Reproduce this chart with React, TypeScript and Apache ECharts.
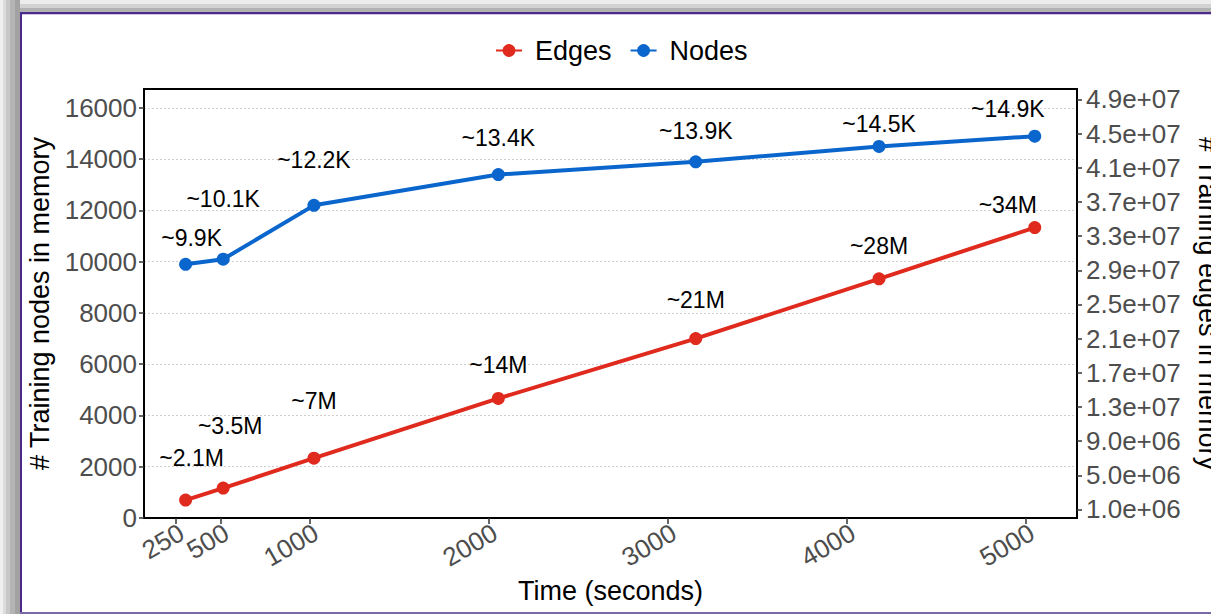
import React, { useEffect, useRef } from "react";
import * as echarts from "echarts";

// Elapsed time (s) at which memory was sampled
const timeSec = [305, 515, 1022, 2052, 3155, 4179, 5049];
// Training edges kept in memory (right axis)
const edgesInMemory = [2.1e6, 3.5e6, 7e6, 14e6, 21e6, 28e6, 34e6];
// Training nodes kept in memory (left axis)
const nodesInMemory = [9900, 10100, 12200, 13400, 13900, 14500, 14900];

// Tick values
const timeTicks = [250, 500, 1000, 2000, 3000, 4000, 5000];
// 500 sits close to 250, so it is labelled on a companion axis to keep both visible
const timeTicksCrowded = [500];
const nodeTicks = [0, 2000, 4000, 6000, 8000, 10000, 12000, 14000, 16000];
const edgeTicks = [1e6, 5e6, 9e6, 1.3e7, 1.7e7, 2.1e7, 2.5e7, 2.9e7, 3.3e7, 3.7e7, 4.1e7, 4.5e7, 4.9e7];

// Pixel shift of each value label from its point
const edgeLabelShift = [[6, -42], [7, -62], [0, -57], [0, -33], [0, -39], [0, -33], [-27, -23]];
const nodeLabelShift = [[6, -26], [0, -60], [0, -45], [0, -37], [0, -31], [0, -22], [-27, -27]];

const RED = "#DF2A1D";
const BLUE = "#0A66CC";
const FONT = "'Liberation Sans', Arial, Helvetica, sans-serif";

// Secondary axis is the primary axis scaled by this factor
const EDGE_FACTOR = 3000;
const NODE_MAX = 16740;
const TIME_MIN = 72.6;
const TIME_MAX = 5285;

function sci(v: number): string {
  const [m, e] = v.toExponential(1).split("e");
  const sign = e[0];
  const digits = e.slice(1).padStart(2, "0");
  return `${m}e${sign}${digits}`;
}

export default function App() {
  const ref = useRef<HTMLDivElement>(null);

  useEffect(() => {
    if (!ref.current) return;
    const chart = echarts.init(ref.current, null, { renderer: "svg" });

    const edgeData = timeSec.map((t, i) => ({
      value: [t, edgesInMemory[i]],
      label: { offset: edgeLabelShift[i] },
    }));
    const nodeData = timeSec.map((t, i) => ({
      value: [t, nodesInMemory[i]],
      label: { offset: nodeLabelShift[i] },
    }));

    const labelStyle = {
      show: true,
      position: "inside",
      color: "#000",
      fontSize: 23,
      fontFamily: FONT,
      textBorderWidth: 0,
    };

    const tickLabel = {
      color: "#4d4d4d",
      fontSize: 26,
      fontFamily: FONT,
      hideOverlap: false,
      showMinLabel: true,
      showMaxLabel: true,
    };

    const timeLabel = {
      ...tickLabel,
      rotate: 30,
      margin: 16,
      padding: [0, -7, 0, 0],
      interval: 0,
      formatter: (v: number) => String(v),
    };

    const titleStyle = { fontSize: 27, color: "#000", fontFamily: FONT };

    chart.setOption({
      animation: false,
      backgroundColor: "#fff",
      textStyle: { fontFamily: FONT },
      graphic: [
        // window shadow and frame
        { type: "rect", shape: { x: 0, y: 0, width: 1211, height: 4 }, style: { fill: "#ececec" }, silent: true },
        { type: "rect", shape: { x: 0, y: 4, width: 1211, height: 4 }, style: { fill: "#d2d2d2" }, silent: true },
        { type: "rect", shape: { x: 0, y: 8, width: 1211, height: 4 }, style: { fill: "#b2b2b2" }, silent: true },
        { type: "rect", shape: { x: 0, y: 0, width: 3, height: 614 }, style: { fill: "#f0f0f0" }, silent: true },
        { type: "rect", shape: { x: 3, y: 0, width: 3, height: 614 }, style: { fill: "#dcdcdc" }, silent: true },
        { type: "rect", shape: { x: 6, y: 0, width: 4, height: 614 }, style: { fill: "#c8c8c8" }, silent: true },
        { type: "rect", shape: { x: 10, y: 0, width: 5, height: 614 }, style: { fill: "#b4b4b4" }, silent: true },
        { type: "rect", shape: { x: 15, y: 0, width: 5, height: 614 }, style: { fill: "#a2a2a2" }, silent: true },
        { type: "rect", shape: { x: 20, y: 12, width: 1191, height: 2 }, style: { fill: "#4b2a8a" }, silent: true },
        { type: "rect", shape: { x: 20, y: 14, width: 1191, height: 1 }, style: { fill: "#cfc3e3" }, silent: true },
        { type: "rect", shape: { x: 20, y: 12, width: 2, height: 602 }, style: { fill: "#4b2a8a" }, silent: true },
        { type: "rect", shape: { x: 20, y: 612, width: 1191, height: 2 }, style: { fill: "#7a6aa8" }, silent: true },
      ],
      legend: {
        data: ["Edges", "Nodes"],
        left: 490,
        top: 32,
        itemWidth: 26,
        itemHeight: 16,
        itemGap: 18,
        textStyle: { fontSize: 27, color: "#000", fontFamily: FONT, padding: [0, 0, 0, 8] },
      },
      grid: {
        left: 144,
        right: 134,
        top: 89,
        bottom: 96,
        outerBoundsMode: "none",
        containLabel: false,
        show: true,
        borderColor: "#000",
        borderWidth: 2,
        backgroundColor: "transparent",
      },
      xAxis: [
        {
          type: "value",
          min: TIME_MIN,
          max: TIME_MAX,
          name: "Time (seconds)",
          nameLocation: "middle",
          nameGap: 59,
          nameTextStyle: titleStyle,
          axisLine: { show: true, onZero: false, lineStyle: { color: "#000", width: 2 } },
          axisTick: { show: true, length: 6, customValues: timeTicks, lineStyle: { color: "#333", width: 1.5 } },
          axisLabel: { ...timeLabel, customValues: timeTicks.filter((t) => !timeTicksCrowded.includes(t)) },
          splitLine: { show: false },
        },
        {
          type: "value",
          position: "bottom",
          min: TIME_MIN,
          max: TIME_MAX,
          axisLine: { show: false, onZero: false },
          axisTick: { show: false },
          axisLabel: { ...timeLabel, customValues: timeTicksCrowded },
          splitLine: { show: false },
        },
      ],
      yAxis: [
        {
          type: "value",
          position: "left",
          min: 0,
          max: NODE_MAX,
          interval: 2000,
          name: "# Training nodes in memory",
          nameLocation: "middle",
          nameRotate: 90,
          nameGap: 88,
          nameTextStyle: titleStyle,
          axisLine: { show: true, lineStyle: { color: "#000", width: 2 } },
          axisTick: { show: true, length: 5, customValues: nodeTicks, lineStyle: { color: "#333", width: 1.5 } },
          axisLabel: { ...tickLabel, margin: 7, customValues: nodeTicks, formatter: (v: number) => String(v) },
          splitLine: { show: true, lineStyle: { color: "#cfcfcf", type: [2, 2], width: 1 } },
        },
        {
          type: "value",
          position: "right",
          min: 0,
          max: NODE_MAX * EDGE_FACTOR,
          name: "# Training edges in memory",
          nameLocation: "middle",
          nameRotate: -90,
          nameGap: 117,
          nameTextStyle: titleStyle,
          axisLine: { show: true, lineStyle: { color: "#000", width: 2 } },
          axisTick: { show: true, length: 5, customValues: edgeTicks, lineStyle: { color: "#333", width: 1.5 } },
          axisLabel: { ...tickLabel, margin: 9, customValues: edgeTicks, formatter: (v: number) => sci(v) },
          splitLine: { show: false },
        },
      ],
      series: [
        {
          name: "Edges",
          type: "line",
          xAxisIndex: 0,
          yAxisIndex: 1,
          data: edgeData,
          symbol: "circle",
          symbolSize: 13,
          color: RED,
          lineStyle: { color: RED, width: 4 },
          itemStyle: { color: RED },
          label: { ...labelStyle, formatter: (p: any) => `~${p.value[1] / 1e6}M` },
          z: 3,
        },
        {
          name: "Nodes",
          type: "line",
          xAxisIndex: 0,
          yAxisIndex: 0,
          data: nodeData,
          symbol: "circle",
          symbolSize: 13,
          color: BLUE,
          lineStyle: { color: BLUE, width: 4 },
          itemStyle: { color: BLUE },
          label: { ...labelStyle, formatter: (p: any) => `~${(p.value[1] / 1000).toFixed(1)}K` },
          z: 3,
        },
      ],
    });

    return () => chart.dispose();
  }, []);

  return (
    <div
      ref={ref}
      style={{ position: "absolute", left: 0, top: 0, width: 1211, height: 614 }}
    />
  );
}
